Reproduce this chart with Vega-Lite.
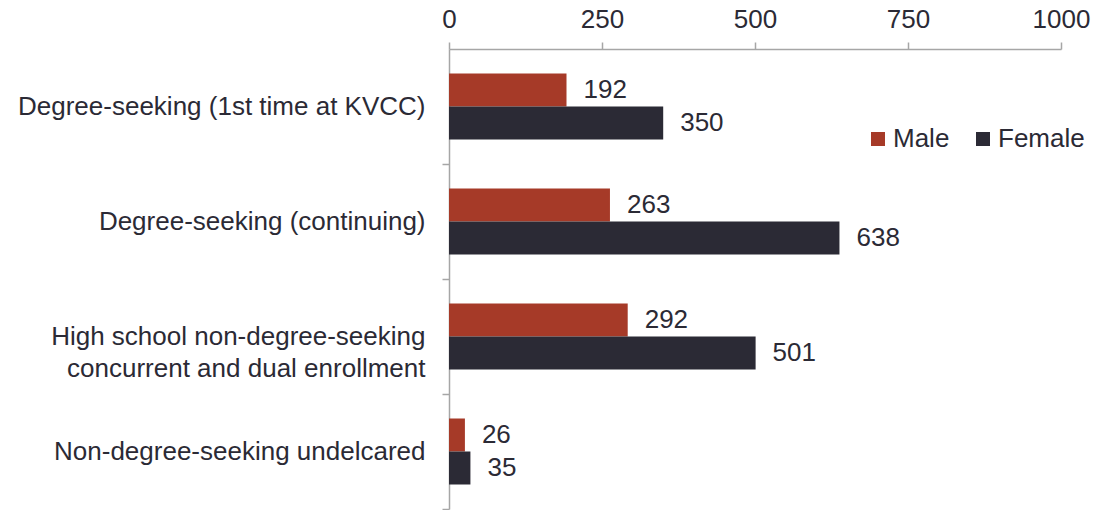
{
  "$schema": "https://vega.github.io/schema/vega-lite/v6.json",
  "autosize": {"type": "none"},
  "padding": {"left": 449, "top": 49, "right": 41, "bottom": 1},
  "width": 612,
  "height": 460,
  "background": "white",
  "config": {
    "view": {"stroke": null},
    "font": "Liberation Sans",
    "axis": {"grid": false, "domainColor": "#A6A6A6", "tickColor": "#A6A6A6", "domainWidth": 1.5, "tickWidth": 1.5, "labelColor": "#2B2A35", "labelFont": "Liberation Sans", "labelFontSize": 26, "title": null}
  },
  "data": {
    "values": [
      {"category": "Degree-seeking (1st time at KVCC)", "sex": "Male", "count": 192},
      {"category": "Degree-seeking (1st time at KVCC)", "sex": "Female", "count": 350},
      {"category": "Degree-seeking (continuing)", "sex": "Male", "count": 263},
      {"category": "Degree-seeking (continuing)", "sex": "Female", "count": 638},
      {"category": "High school non-degree-seeking|concurrent and dual enrollment", "sex": "Male", "count": 292},
      {"category": "High school non-degree-seeking|concurrent and dual enrollment", "sex": "Female", "count": 501},
      {"category": "Non-degree-seeking undelcared", "sex": "Male", "count": 26},
      {"category": "Non-degree-seeking undelcared", "sex": "Female", "count": 35}
    ]
  },
  "encoding": {
    "y": {
      "field": "category", "type": "nominal", "sort": null,
      "scale": {"paddingInner": 0.426, "paddingOuter": 0.213},
      "axis": {"tickOffset": 57.5, "labelOffset": -57.5, "tickSize": 7, "labelPadding": 17, "labelLimit": 500, "labelExpr": "split(datum.label, '|')", "labelLineHeight": 32}
    },
    "yOffset": {"field": "sex", "type": "nominal", "sort": ["Male", "Female"]},
    "x": {
      "field": "count", "type": "quantitative",
      "scale": {"domain": [0, 1000], "nice": false},
      "axis": {"orient": "top", "values": [0, 250, 500, 750, 1000], "format": "d", "tickSize": 7, "labelPadding": 10, "labelFlush": false}
    }
  },
  "layer": [
    {
      "mark": {"type": "bar"},
      "encoding": {
        "color": {
          "field": "sex", "type": "nominal",
          "scale": {"domain": ["Male", "Female"], "range": ["#A63A28", "#2B2A35"]},
          "legend": {"title": null, "orient": "none", "direction": "horizontal", "legendX": 416, "legendY": 77, "symbolType": "square", "symbolSize": 196, "symbolStrokeWidth": 0, "labelFontSize": 26, "labelFont": "Liberation Sans", "labelColor": "#2B2A35", "columnPadding": 20, "labelOffset": 2}
        }
      }
    },
    {
      "mark": {"type": "text", "align": "left", "baseline": "middle", "dx": 17, "fontSize": 26, "color": "#2B2A35", "font": "Liberation Sans"},
      "encoding": {"text": {"field": "count", "type": "quantitative"}}
    }
  ]
}
